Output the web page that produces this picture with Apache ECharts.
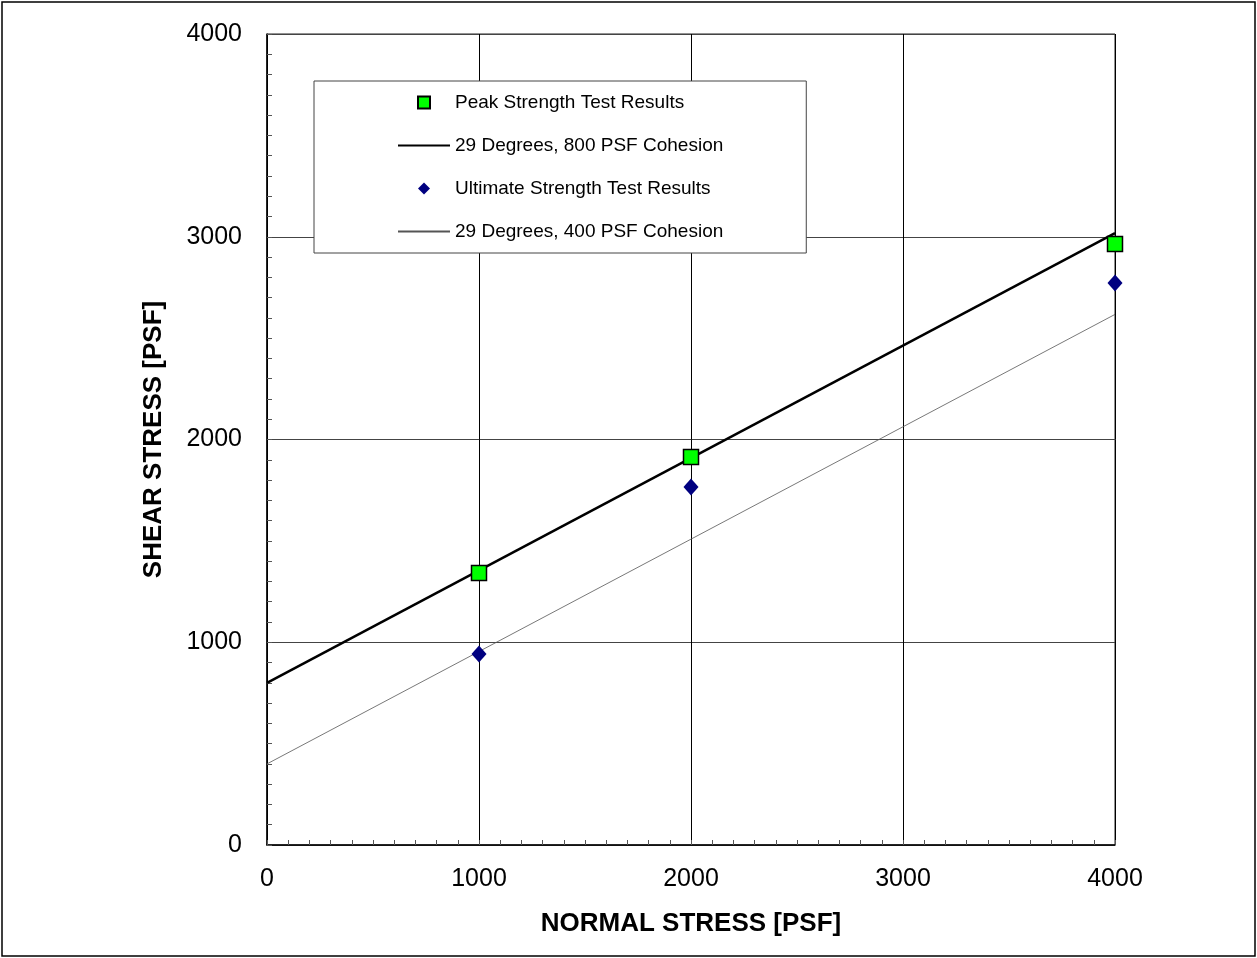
<!DOCTYPE html>
<html>
<head>
<meta charset="utf-8">
<script src="https://cdn.jsdelivr.net/npm/echarts@6/dist/echarts.min.js"></script>
<style>
html,body{margin:0;padding:0;background:#fff;}
#chart{width:1257px;height:958px;}
</style>
</head>
<body>
<div id="chart"></div>
<script>
var peakNormal = [1000, 2000, 4000];
var peakShear = [1341, 1914, 2964];
var ultNormal = [1000, 2000, 4000];
var ultShear = [942, 1766, 2772];
var line800 = [[0, 800], [4000, 3018]];
var line400 = [[0, 400], [4000, 2617]];
var xTicks = [0, 1000, 2000, 3000, 4000];
var yTicks = [0, 1000, 2000, 3000, 4000];
var seriesNames = ['Peak Strength Test Results', '29 Degrees, 800 PSF Cohesion', 'Ultimate Strength Test Results', '29 Degrees, 400 PSF Cohesion'];

function pairs(xs, ys){ return xs.map(function(x,i){ return [x, ys[i]]; }); }

// legend icons: centred small marks inside a 52x12 box (leading moveTo points fix the box)
var squareIcon = 'path://M0,0 M52,12 M20,0 L32,0 L32,12 L20,12 Z';
var diamondIcon = 'path://M0,0 M52,12 M26,0 L32,6 L26,12 L20,6 Z';

var chart = echarts.init(document.getElementById('chart'), null, {renderer:'canvas'});
var font = '"Liberation Sans", Arial, sans-serif';
chart.setOption({
  animation: false,
  backgroundColor: '#fff',
  textStyle: {fontFamily: font},
  graphic: [{
    type: 'rect', shape: {x: 2, y: 2, width: 1253, height: 954},
    style: {fill: 'none', stroke: '#000', lineWidth: 1.5}, z: -1
  }],
  grid: {left: 267, right: 142, top: 34, bottom: 113, show: true, borderColor: '#222', borderWidth: 1, backgroundColor: 'transparent'},
  legend: {
    orient: 'vertical', left: 314, top: 81,
    backgroundColor: '#fff', borderColor: '#444', borderWidth: 1,
    padding: [12, 83, 12, 83],
    itemWidth: 52, itemHeight: 12, itemGap: 24,
    textStyle: {fontSize: 19, color: '#000', fontFamily: font},
    data: [
      {name: seriesNames[0], icon: squareIcon, itemStyle: {color: '#00ff00', borderColor: '#000', borderWidth: 2}},
      {name: seriesNames[1], itemStyle: {opacity: 0}},
      {name: seriesNames[2], icon: diamondIcon, itemStyle: {color: '#000080'}},
      {name: seriesNames[3], itemStyle: {opacity: 0}}
    ]
  },
  xAxis: {
    type: 'value', min: xTicks[0], max: xTicks[xTicks.length-1], interval: 1000,
    name: 'NORMAL STRESS [PSF]', nameLocation: 'middle', nameGap: 66,
    nameTextStyle: {fontSize: 26, fontWeight: 'bold', color: '#000', fontFamily: font},
    axisLine: {show: true, lineStyle: {color: '#000', width: 1.5}},
    axisTick: {show: true, inside: true, length: 5, lineStyle: {color: '#555'}},
    minorTick: {show: true, splitNumber: 10, length: 5, lineStyle: {color: '#555'}},
    axisLabel: {fontSize: 25, color: '#000', margin: 22, fontFamily: font, formatter: function(v){ return String(v); }},
    splitLine: {show: true, lineStyle: {color: '#000', width: 1}}
  },
  yAxis: {
    type: 'value', min: yTicks[0], max: yTicks[yTicks.length-1], interval: 1000,
    name: 'SHEAR STRESS [PSF]', nameLocation: 'middle', nameGap: 100,
    nameTextStyle: {fontSize: 26, fontWeight: 'bold', color: '#000', fontFamily: font},
    axisLine: {show: true, lineStyle: {color: '#000', width: 1.5}},
    axisTick: {show: true, inside: true, length: 5, lineStyle: {color: '#555'}},
    minorTick: {show: true, splitNumber: 10, length: 5, lineStyle: {color: '#555'}},
    axisLabel: {fontSize: 25, color: '#000', margin: 25, fontFamily: font, formatter: function(v){ return String(v); }},
    splitLine: {show: true, lineStyle: {color: '#444', width: 1}}
  },
  series: [
    {name: seriesNames[1], type: 'line', data: line800, showSymbol: false, symbol: 'none',
     lineStyle: {color: '#000', width: 2.5}, itemStyle: {color: '#000'}, z: 3},
    {name: seriesNames[3], type: 'line', data: line400, showSymbol: false, symbol: 'none',
     lineStyle: {color: '#555', width: 0.8}, itemStyle: {color: '#555'}, z: 3},
    {name: seriesNames[0], type: 'scatter', data: pairs(peakNormal, peakShear), symbol: 'rect', symbolSize: 15,
     itemStyle: {color: '#00ff00', borderColor: '#000', borderWidth: 1.5, opacity: 1}, z: 5},
    {name: seriesNames[2], type: 'scatter', data: pairs(ultNormal, ultShear), symbol: 'diamond', symbolSize: [15, 17],
     itemStyle: {color: '#000080', opacity: 1}, z: 5}
  ]
});
</script>
</body>
</html>
